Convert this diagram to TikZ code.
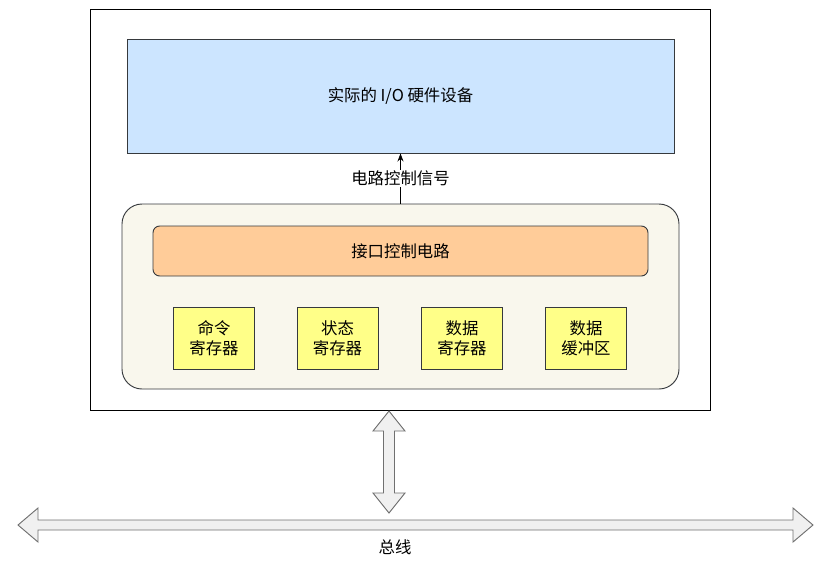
\documentclass[tikz,border=0pt]{standalone}
\usepackage{fontspec}
\setmainfont{Noto Sans CJK SC}
\usetikzlibrary{arrows.meta}
\usetikzlibrary{positioning}

\definecolor{devblue}{HTML}{CCE5FF}
\definecolor{ifacebg}{HTML}{F9F7ED}
\definecolor{ctrlorange}{HTML}{FFCC99}
\definecolor{regyellow}{HTML}{FFFF88}
\definecolor{edgegray}{HTML}{36393D}
\definecolor{busfill}{HTML}{F0F0F0}
\definecolor{busline}{HTML}{707070}

\begin{document}
\begin{tikzpicture}[x=0.75pt,y=-0.75pt,
    font=\fontsize{12.3}{15}\selectfont,
    box/.style={draw=edgegray,line width=0.7pt,inner sep=0pt,align=center},
    reg/.style={box,fill=regyellow,minimum width=60.75pt,minimum height=46.5pt},
    bus/.style={draw=busline,fill=busfill,line width=0.7pt,line join=miter}]
  \useasboundingbox (0,0) rectangle (821,562);

  \node [draw=black,line width=0.7pt,minimum width=465pt,minimum height=300.75pt] (ctrl) at (400,209.5) {};
  \node [box,fill=devblue,minimum width=410.25pt,minimum height=85.5pt] (dev) at (400.5,96) {实际的 I/O 硬件设备};
  \node [box,fill=ifacebg,rounded corners=15pt,minimum width=417.75pt,minimum height=138.75pt] (iface) at (400.5,296.5) {};
  \node [box,fill=ctrlorange,rounded corners=5pt,minimum width=371.25pt,minimum height=37.5pt] (circ) at (400.5,251) {接口控制电路};

  \node [reg] (cmd)  at (214,338)   {命令\\寄存器};
  \node [reg] (stat) at (337.5,338) {状态\\寄存器};
  \node [reg] (data) at (462,338)   {数据\\寄存器};
  \node [reg] (buf)  at (586,338)   {数据\\缓冲区};

  \draw [-{Stealth[length=6pt,width=4.5pt]},line width=0.6pt] (iface.north) -- node [fill=white,inner sep=1pt] {电路控制信号} (dev.south);

  % bus arrows
  \draw [bus] (389,411) -- (405,431) -- (394.5,431) -- (394.5,493) -- (405,493) -- (389,513)
    -- (373,493) -- (383.5,493) -- (383.5,431) -- (373,431) -- cycle;
  \draw [bus] (18,525) -- (38,508) -- (38,520) -- (793,520) -- (793,508) -- (813,525)
    -- (793,542) -- (793,530) -- (38,530) -- (38,542) -- cycle;
  \node (buslabel) at (395,547) {总线};
\end{tikzpicture}
\end{document}
